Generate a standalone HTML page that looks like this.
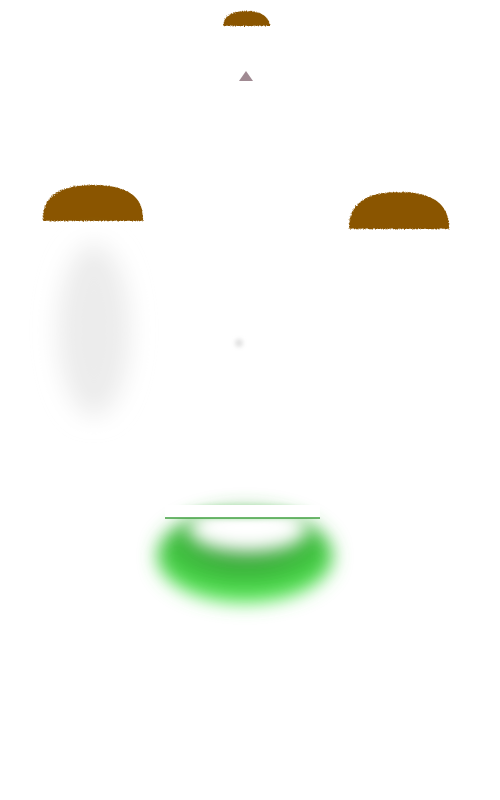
<!DOCTYPE html>
<html>
<head>
<meta charset="utf-8">
<style>
  html,body{margin:0;padding:0;background:#fff;}
  svg{display:block;}
</style>
</head>
<body>
<svg width="500" height="800" viewBox="0 0 500 800" xmlns="http://www.w3.org/2000/svg">
  <defs>
    <filter id="blurBig" x="-50%" y="-50%" width="200%" height="200%"><feGaussianBlur stdDeviation="12"/></filter>
    <filter id="blurMed" x="-50%" y="-50%" width="200%" height="200%"><feGaussianBlur stdDeviation="9"/></filter>
    <filter id="blurSmall" x="-50%" y="-50%" width="200%" height="200%"><feGaussianBlur stdDeviation="2"/></filter>
    <filter id="rough" x="-10%" y="-10%" width="120%" height="120%">
      <feTurbulence type="fractalNoise" baseFrequency="0.9" numOctaves="2" result="n"/>
      <feDisplacementMap in="SourceGraphic" in2="n" scale="3"/>
    </filter>
    <radialGradient id="greenGrad" cx="50%" cy="30%" r="70%">
      <stop offset="0%" stop-color="#2f8a2f"/>
      <stop offset="60%" stop-color="#3fbf3f"/>
      <stop offset="100%" stop-color="#5af05a"/>
    </radialGradient>
  </defs>

  <path d="M223,26 Q224,11 246,11 Q268,11 270,26 Z" fill="#8a5505" filter="url(#rough)"/>
  <polygon points="246,71 253,81 239,81" fill="#a08a92"/>

  <path d="M43,221 Q41,185 93,185 Q145,185 143,221 Z" fill="#8a5505" filter="url(#rough)"/>
  <path d="M349,229 Q348,192 399,192 Q450,192 449,229 Z" fill="#8a5505" filter="url(#rough)"/>

  <ellipse cx="94" cy="330" rx="36" ry="86" fill="#ececec" filter="url(#blurBig)"/>
  <circle cx="239" cy="343" r="4" fill="#e0e0e0" filter="url(#blurSmall)"/>

  <g>
    <ellipse cx="245" cy="556" rx="88" ry="47" fill="url(#greenGrad)" filter="url(#blurMed)"/>
    <ellipse cx="248" cy="528" rx="60" ry="24" fill="#ffffff" filter="url(#blurMed)"/>
    <ellipse cx="245" cy="512" rx="70" ry="8" fill="#5cc45c" opacity="0.3" filter="url(#blurSmall)"/>
    <rect x="165" y="505" width="155" height="13" fill="#ffffff"/>
    <line x1="165" y1="518" x2="320" y2="518" stroke="#3f9f3f" stroke-width="1.5"/>
  </g>
</svg>
</body>
</html>
